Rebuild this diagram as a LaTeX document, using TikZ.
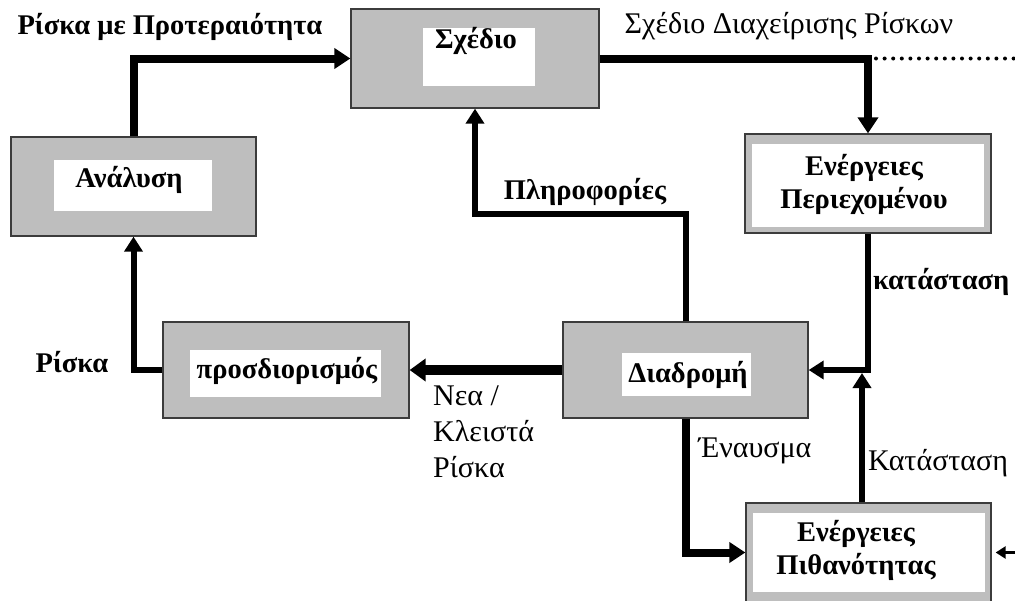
\documentclass[tikz,border=0pt]{standalone}
\usepackage{fontspec}
\setmainfont{Liberation Serif}
\usetikzlibrary{arrows.meta}
\definecolor{boxgray}{RGB}{190,190,190}
\definecolor{edge}{RGB}{60,60,60}
\begin{document}
\begin{tikzpicture}[x=1pt,y=-1pt,
  outerbox/.style={draw=edge,line width=1.3pt,fill=boxgray,inner sep=0pt},
  innerbox/.style={fill=white,inner sep=0pt},
  lbl/.style={font=\fontsize{28.5}{33}\selectfont\bfseries,inner sep=0pt,align=center},
  lblr/.style={font=\fontsize{30}{36}\selectfont,inner sep=0pt},
  arr/.style={line width=8pt,-{Triangle[length=16pt,width=20pt]}},
  arrthin/.style={line width=6pt,-{Triangle[length=15pt,width=18pt]}},
  arrthick/.style={line width=10pt,-{Triangle[length=16pt,width=22pt]}},
  dotline/.style={line width=4pt,line cap=round,dash pattern=on 0pt off 8.6pt},
]
\useasboundingbox (0,0) rectangle (1015,600);
\clip (0,0) rectangle (1015,600);

% grey blocks with a white label panel
\node[outerbox,minimum width=248pt,minimum height=99pt] (S) at (475,58.5) {};
\node[innerbox,minimum width=112pt,minimum height=58pt] (Sw) at (479,57) {};
\node[lbl] (St) at (476,41) {Σχέδιο};

\node[outerbox,minimum width=245pt,minimum height=99pt] (A) at (133.5,186.5) {};
\node[innerbox,minimum width=158pt,minimum height=51pt] (Aw) at (133,185.5) {};
\node[lbl] (At) at (129,180) {Ανάλυση};

\node[outerbox,minimum width=246pt,minimum height=96pt] (P) at (286,370) {};
\node[innerbox,minimum width=191pt,minimum height=47pt] (Pw) at (285.5,373.5) {};
\node[lbl] (Pt) at (287,371) {προσδιορισμός};

\node[outerbox,minimum width=245pt,minimum height=96pt] (D) at (685.5,370) {};
\node[innerbox,minimum width=129pt,minimum height=43pt] (Dw) at (686.5,374.5) {};
\node[lbl] (Dt) at (688,375) {Διαδρομή};

% framed blocks: narrow grey band around a white field
\node[outerbox,minimum width=246pt,minimum height=99pt] (EP) at (868,183.5) {};
\node[innerbox,minimum width=232pt,minimum height=83pt] (EPw) at (868,185) {};
\node[lbl] (EPt) at (864,184) {Ενέργειες\\Περιεχομένου};

\node[outerbox,minimum width=245pt,minimum height=99pt] (PI) at (868.5,552.5) {};
\node[innerbox,minimum width=232pt,minimum height=79pt] (PIw) at (869,552.5) {};
\node[lbl] (PIt) at (856,550) {Ενέργειες\\Πιθανότητας};

% loose ends and junctions
\coordinate (dotend) at (1015,58.5);
\coordinate (rin) at (1015,552.5);
\coordinate (J) at (EP.south |- D.east);

% connectors
\draw[arr] (A.north) |- (S.west);
\draw[arr] (S.east) -| (EP.north);
\draw[dotline] ([xshift=8pt]EP.north |- S.east) -- (dotend);
\draw[arrthin] (D.north) -- ++(0,-107) -| (S.south);
\draw[arrthick] (D.west) -- (P.east);
\draw[arrthin] (P.west) -| (A.south);
\draw[arrthin] (EP.south) |- (D.east);
\draw[arrthin] ([xshift=-6.5pt]PI.north) -- ([xshift=-6pt,yshift=-3pt]J);
\draw[arr] (D.south) |- (PI.west);
\draw[line width=3pt,-{Triangle[length=10pt,width=12pt]},shorten >=4pt] (rin) -- (PI.east);

% labels
\node[lbl] (l1) at (170,27) {Ρίσκα με Προτεραιότητα};
\node[lblr] (l2) at (789,26) {Σχέδιο Διαχείρισης Ρίσκων};
\node[lbl] (l3) at (585,192) {Πληροφορίες};
\node[lbl,anchor=west] (l4) at (873,282) {κατάσταση};
\node[lbl] (l5) at (72,362) {Ρίσκα};
\node[lblr,anchor=north west,align=left] (l6) at (433,386) {Νεα /\\Κλειστά\\Ρίσκα};
\node[lblr] (l7) at (755,451) {Έναυσμα};
\node[lblr,anchor=west] (l8) at (868,463) {Κατάσταση};
\end{tikzpicture}
\end{document}
